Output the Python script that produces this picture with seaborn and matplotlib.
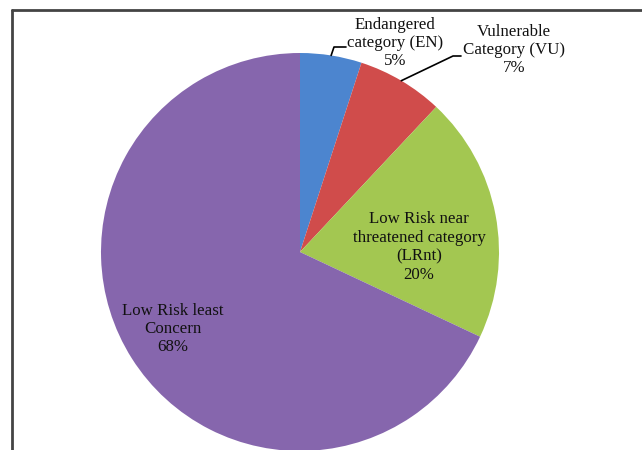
import numpy as np
import matplotlib
matplotlib.use("Agg")
import matplotlib.pyplot as plt
import seaborn as sns
from matplotlib.lines import Line2D

# Data
categories = ["Endangered\ncategory (EN)",
              "Vulnerable\nCategory (VU)",
              "Low Risk near\nthreatened category\n(LRnt)",
              "Low Risk least\nConcern"]
shares = [5, 7, 20, 68]
colors = ["#4c85cf", "#d04c4b", "#a3c751", "#8666ad"]

sns.set_theme(style="white")
plt.rcParams["font.family"] = ["Liberation Serif", "DejaVu Serif"]

W, H = 642, 450
cx, cy, R = 300, 252, 199

fig = plt.figure(figsize=(W / 100, H / 100), dpi=100)
fig.patch.set_facecolor("white")
ax = fig.add_axes([(cx - R) / W, (H - cy - R) / H, 2 * R / W, 2 * R / H])

palette = sns.color_palette(colors)
wedges, _ = ax.pie(shares, colors=palette, startangle=90, counterclock=False,
                   radius=1, wedgeprops=dict(linewidth=0))
ax.set_xlim(-1, 1)
ax.set_ylim(-1, 1)
ax.axis("off")


def to_data(x, y):
    return (x - cx) / R, (cy - y) / R


# label centres in pixel space (layout)
label_pos = [(395, 43), (514, 50), (419, 247), (173, 329)]
fs = 12.2

for i, (lab, val) in enumerate(zip(categories, shares)):
    tx, ty = to_data(*label_pos[i])
    ax.text(tx, ty, f"{lab}\n{val}%", ha="center", va="center",
            fontsize=fs, color="#111111", linespacing=1.2, clip_on=False)

# leader lines for the two small slices
elbows = [((334, 47), (346, 47)), ((453, 56), (461, 56))]
for w, (e1, e2) in zip(wedges[:2], elbows):
    mid = np.deg2rad((w.theta1 + w.theta2) / 2)
    ax_x, ax_y = np.cos(mid), np.sin(mid)
    p1 = to_data(*e1)
    p2 = to_data(*e2)
    ax.plot([ax_x, p1[0], p2[0]], [ax_y, p1[1], p2[1]], color="black",
            lw=1.2, clip_on=False)

# chart frame (left and top edges visible)
fx, fy = 12 / W, 1 - 10 / H
fig.add_artist(Line2D([fx, fx], [0, fy], color="#444444", lw=2))
fig.add_artist(Line2D([fx, 1], [fy, fy], color="#444444", lw=2))

fig.savefig("out.png", dpi=100, facecolor="white")
